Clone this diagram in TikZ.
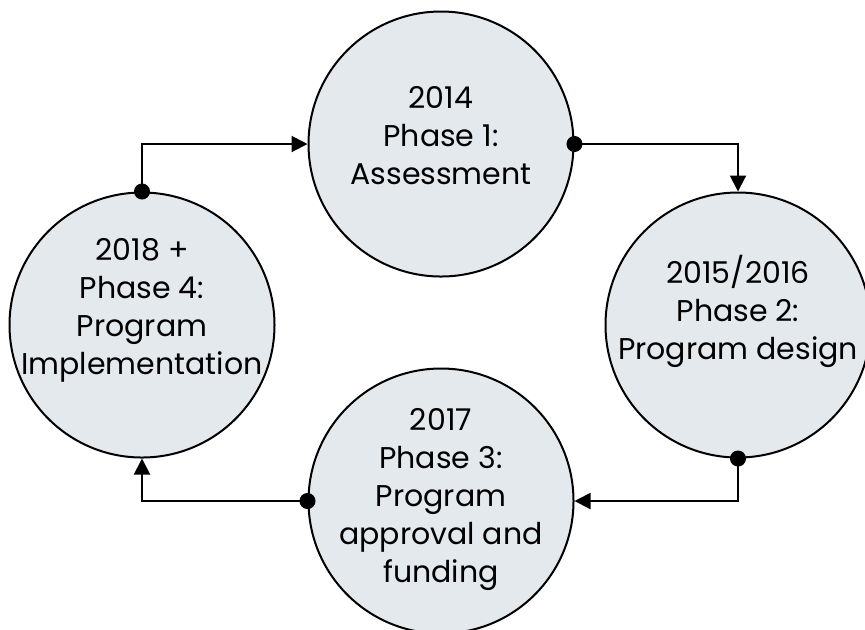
\documentclass[tikz,border=0pt]{standalone}
\usepackage{fontspec}
\setmainfont{Poppins}
\usetikzlibrary{arrows.meta, positioning}
\definecolor{phasefill}{RGB}{228,233,238}

\begin{document}
\begin{tikzpicture}[x=0.5pt,y=-0.5pt,
  phase/.style={circle,draw,line width=1pt,fill=phasefill,minimum size=132.5pt,inner sep=0pt},
  txt/.style={align=center,font=\fontsize{15}{19}\selectfont,inner sep=0pt},
  conn/.style={line width=1pt,{Circle[length=8pt]}-{Triangle[length=8pt,width=8pt]},shorten <=-4pt}]
\useasboundingbox (0,0) rectangle (865,629);
\node[phase] (p1) at (441,144) {};
\node[phase] (p2) at (738,325) {};
\node[phase] (p3) at (441,501) {};
\node[phase] (p4) at (142,325) {};
\node[txt] (t1) at (441,136) {2014\\Phase 1:\\Assessment};
\node[txt] (t2) at (738,311) {2015/2016\\Phase 2:\\Program design};
\node[txt] (t3) at (441,499) {2017\\Phase 3:\\Program\\approval and\\funding};
\node[txt] (t4) at (142,310) {2018 +\\Phase 4:\\Program\\Implementation};
\draw[conn] (p4.north) |- (p1.west);
\draw[conn] (p1.east) -| (p2.north);
\draw[conn] (p2.south) |- (p3.east);
\draw[conn] (p3.west) -| (p4.south);
\end{tikzpicture}
\end{document}
